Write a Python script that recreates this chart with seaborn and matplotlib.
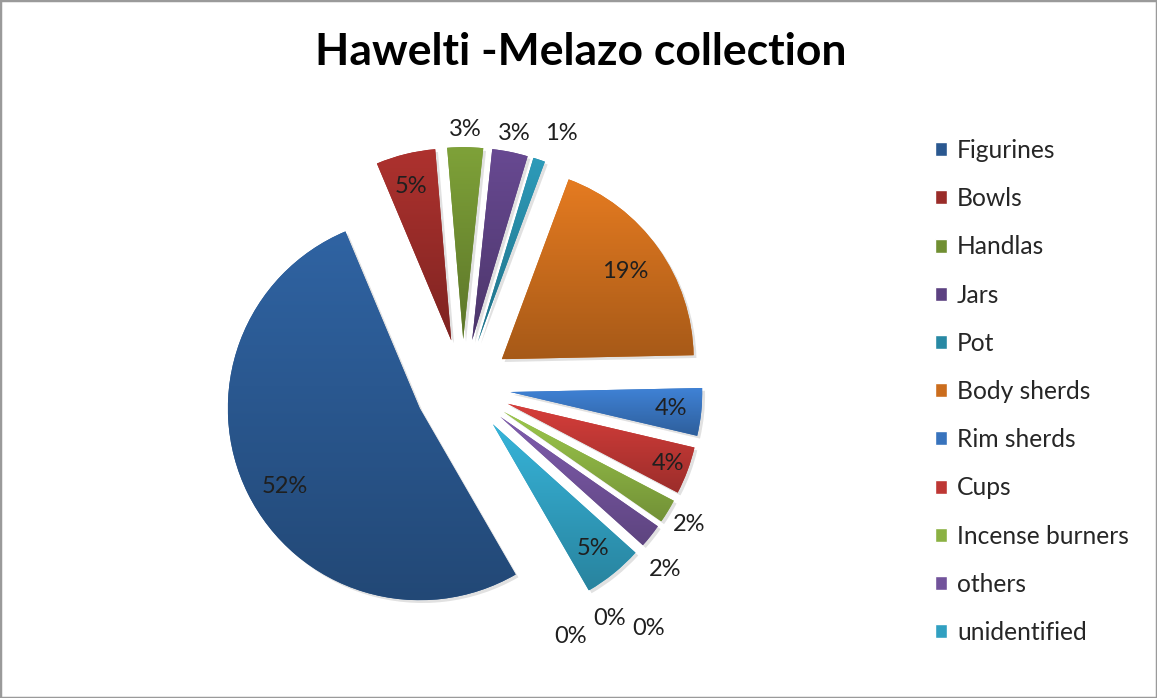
import numpy as np
import matplotlib
matplotlib.use('Agg')
import matplotlib.pyplot as plt
import matplotlib.patheffects as pe
from matplotlib.colors import LinearSegmentedColormap, to_rgb
from matplotlib.patches import Patch, Rectangle
import seaborn as sns

# valori (percentuale della collezione)
categories = ['Figurines', 'Bowls', 'Handlas', 'Jars', 'Pot', 'Body sherds',
              'Rim sherds', 'Cups', 'Incense burners', 'others', 'unidentified',
              '', '', '']
values = [52, 5, 3, 3, 1, 19, 4, 4, 2, 2, 5, 0, 0, 0]
title = 'Hawelti -Melazo collection'

# colori tipo Excel 2007
base_colors = ['#2A5890', '#9A2C29', '#708F32', '#5C4181', '#2889A4', '#CB6D1D',
               '#3873BD', '#BE3734', '#8BB143', '#72539B', '#31A0C1',
               '#2A5890', '#9A2C29', '#708F32']

# posizione etichette: distanza dalla punta della fetta (in raggi) e rotazione oraria (gradi)
label_dist = [0.81, 0.83, 1.09, 1.10, 1.17, 0.79, 0.84, 0.89, 1.13, 1.17, 0.83, 1.17, 1.18, 1.34]
label_turn = [-3.6, -1, 0, 0, 3.3, 0, 0, 0, 0, 4.4, 0, 8, -3, -9]

sns.set_theme(style='white')
plt.rcParams['font.family'] = ['Lato', 'DejaVu Sans']

fig = plt.figure(figsize=(11.57, 6.98), dpi=100)
ax = fig.add_axes([155.7 / 1157, 4 / 698, 614 / 1157, 614 / 698])

wedges, _, autotexts = ax.pie(values, explode=[0.25] * len(values), startangle=-60,
                              counterclock=False, colors=base_colors, autopct='%1.0f%%',
                              radius=1, wedgeprops=dict(linewidth=0),
                              textprops=dict(fontsize=17, color='#1f1f1f'))

# sfumatura verticale + ombra per ogni fetta
grad = np.linspace(0, 1, 256).reshape(-1, 1)
for w, c in zip(wedges, base_colors):
    if w.theta2 - w.theta1 < 1e-6:
        continue
    base = np.array(to_rgb(c))
    cmap = LinearSegmentedColormap.from_list('g', [np.clip(base * 1.13, 0, 1), base * 0.82])
    ext = w.get_path().get_extents()
    im = ax.imshow(grad, cmap=cmap, extent=[ext.x0, ext.x1, ext.y0, ext.y1], origin='upper',
                   aspect='auto', zorder=w.get_zorder() + 0.1, interpolation='bicubic')
    im.set_clip_path(w)
    w.set_path_effects([pe.SimplePatchShadow(offset=(2, -2), shadow_rgbFace='k', alpha=0.13),
                        pe.Normal()])

# sposta le etichette percentuali
for w, t, d, turn in zip(wedges, autotexts, label_dist, label_turn):
    a = np.radians((w.theta1 + w.theta2) / 2 - turn)
    t.set_position((w.center[0] + d * w.r * np.cos(a), w.center[1] + d * w.r * np.sin(a)))

ax.set_xlim(-1.6, 1.6)
ax.set_ylim(-1.6, 1.6)
ax.axis('off')

# legenda solo per le categorie con nome
named = [i for i, c in enumerate(categories) if c]
handles = [Patch(facecolor=base_colors[i]) for i in named]
fig.legend(handles, [categories[i] for i in named], loc='upper left',
           bbox_to_anchor=(935 / 1157, 1 - 139 / 698), frameon=False, fontsize=17.7,
           handlelength=0.5, handleheight=0.5, handletextpad=0.4, labelspacing=1.025,
           borderpad=0, borderaxespad=0, labelcolor='#262626')

fig.text(0.5017, 1 - 65 / 698, title, ha='center', va='baseline', fontsize=32,
         fontweight='bold', color='black')

# bordo dell'area grafico
fig.patches.append(Rectangle((0, 0), 1, 1, transform=fig.transFigure, fill=False,
                             edgecolor='#9a9a9a', linewidth=2.5))

fig.savefig('out.png', dpi=100)
